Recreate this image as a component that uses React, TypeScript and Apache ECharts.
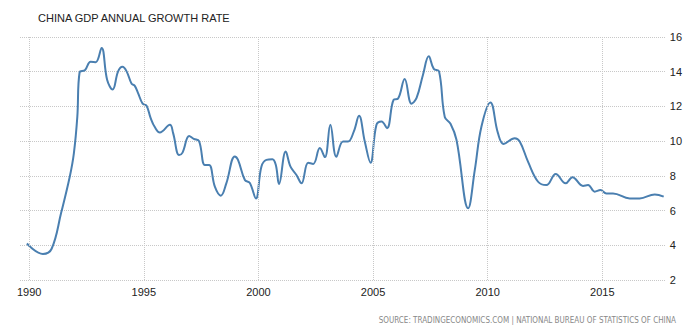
import React, { useEffect, useRef } from "react";
import * as echarts from "echarts";

const titleText = "CHINA GDP ANNUAL GROWTH RATE";
const sourceText = "SOURCE: TRADINGECONOMICS.COM | NATIONAL BUREAU OF STATISTICS OF CHINA";

const years = [
  1989.9, 1990.6, 1990.98, 1991.4, 1991.77, 1991.95, 1992.1, 1992.2, 1992.43, 1992.68,
  1992.9, 1993.16, 1993.4, 1993.64, 1993.88, 1994.07, 1994.25, 1994.47, 1994.6, 1994.75,
  1994.95, 1995.12, 1995.3, 1995.48, 1995.7, 1996.14, 1996.28, 1996.54, 1996.69, 1996.98,
  1997.18, 1997.41, 1997.66, 1997.85, 1998.1, 1998.36, 1998.6, 1998.97, 1999.11, 1999.41,
  1999.62, 1999.89, 2000.13, 2000.35, 2000.61, 2000.76, 2000.9, 2001.19, 2001.4, 2001.66,
  2001.88, 2002.17, 2002.39, 2002.68, 2002.9, 2003.14, 2003.4, 2003.69, 2003.91, 2004.16,
  2004.39, 2004.64, 2004.89, 2005.15, 2005.37, 2005.61, 2005.9, 2006.09, 2006.38, 2006.68,
  2006.9, 2007.18, 2007.43, 2007.65, 2007.88, 2008.13, 2008.38, 2008.64, 2009.15, 2009.44,
  2009.73, 2010.12, 2010.45, 2010.7, 2011.18, 2011.4, 2011.76, 2012.2, 2012.56, 2012.97,
  2013.4, 2013.7, 2014.16, 2014.38, 2014.67, 2014.92, 2015.18, 2015.47, 2016.2, 2016.63,
  2017.29, 2017.68,
];

const growth = [
  4.1, 3.5, 3.8, 5.9, 7.95, 9.3, 11.4, 13.97, 14.08, 14.57,
  14.55, 15.37, 13.54, 12.97, 14.02, 14.28, 14.02, 13.3, 13.2, 12.77,
  12.16, 12.04, 11.33, 10.81, 10.5, 10.94, 10.46, 9.2, 9.34, 10.3,
  10.13, 10.0, 8.63, 8.63, 7.38, 6.86, 7.57, 9.12, 8.92, 7.76,
  7.6, 6.7, 8.53, 8.92, 8.96, 8.63, 7.53, 9.4, 8.53, 8.05,
  7.57, 8.76, 8.69, 9.6, 9.08, 10.94, 9.1, 9.98, 9.98, 10.55,
  11.46, 9.98, 8.76, 10.94, 11.13, 10.75, 12.39, 12.45, 13.58, 12.16,
  12.49, 13.83, 14.89, 14.16, 14.02, 11.39, 11.0, 10.08, 6.13, 8.34,
  10.84, 12.23, 10.46, 9.84, 10.17, 9.98, 8.82, 7.66, 7.47, 8.11,
  7.57, 7.92, 7.42, 7.47, 7.09, 7.18, 6.99, 6.99, 6.7, 6.7,
  6.93, 6.8,
];

const yearTicks = [1990, 1995, 2000, 2005, 2010, 2015];

export default function App() {
  const ref = useRef<HTMLDivElement>(null);
  useEffect(() => {
    if (!ref.current) return;
    const chart = echarts.init(ref.current, undefined, { renderer: "svg" });
    const data = years.map((y, i) => [y, growth[i]]);
    chart.setOption({
      animation: false,
      backgroundColor: "#ffffff",
      textStyle: { fontFamily: "Liberation Sans, Arial, sans-serif" },
      title: {
        text: titleText,
        left: 33,
        top: 7,
        textStyle: { fontSize: 11, fontWeight: "normal", color: "#222", fontFamily: "Liberation Sans, Arial, sans-serif" },
      },
      grid: { left: 20, right: 19, top: 37, bottom: 54, containLabel: false },
      xAxis: {
        type: "value",
        min: 1989.6,
        max: 2017.77,
        axisLine: { show: false },
        axisTick: { show: false },
        splitLine: { show: false },
        axisLabel: {
          customValues: yearTicks,
          formatter: (v: number) => String(Math.round(v)),
          fontSize: 11,
          color: "#222",
          margin: 6,
        },
      },
      yAxis: {
        type: "value",
        position: "right",
        min: 2,
        max: 16,
        interval: 2,
        axisLine: { show: false },
        axisTick: { show: false },
        axisLabel: { fontSize: 11, color: "#222", margin: 4 },
        splitLine: { show: true, lineStyle: { type: "dotted", color: "#c8c8c8", width: 1 } },
      },
      series: [
        {
          type: "line",
          data,
          smooth: 0.4,
          showSymbol: false,
          lineStyle: { color: "#4a7fb0", width: 2 },
          markLine: {
            silent: true,
            symbol: ["none", "none"],
            label: { show: false },
            lineStyle: { type: "dotted", color: "#c8c8c8", width: 1 },
            data: yearTicks.map((y) => ({ xAxis: y })),
          },
        },
      ],
      graphic: [
        {
          type: "text",
          right: 9,
          top: 316,
          style: {
            text: sourceText,
            fontSize: 8,
            fill: "#888",
            fontFamily: "DejaVu Sans Condensed, Liberation Sans Narrow, sans-serif",
          },
        },
      ],
    });
    return () => chart.dispose();
  }, []);
  return <div ref={ref} style={{ position: "fixed", left: 0, top: 0, width: 685, height: 334 }} />;
}
